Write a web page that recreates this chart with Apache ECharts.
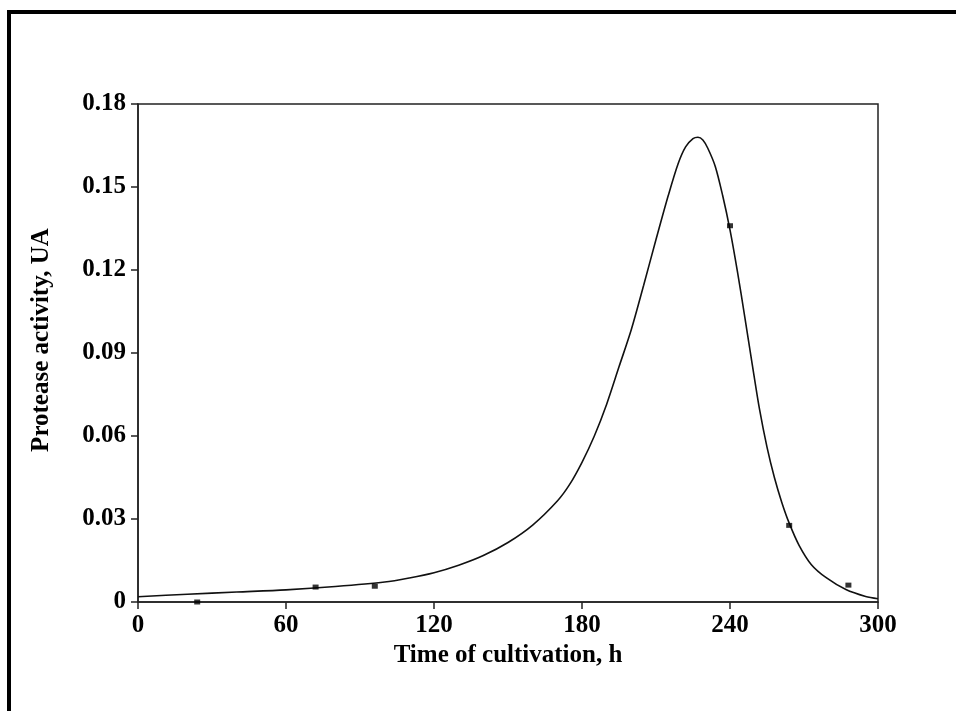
<!DOCTYPE html>
<html>
<head>
<meta charset="utf-8">
<script src="https://cdn.jsdelivr.net/npm/echarts@6/dist/echarts.min.js"></script>
<style>
  html, body { margin: 0; padding: 0; background: #fff; }
  #main { width: 956px; height: 711px; }
</style>
</head>
<body>
<div id="main"></div>
<script>
// fitted curve (time h, activity UA)
const curveX = [0, 20, 40, 60, 80, 100, 110, 120, 130, 140, 150, 160, 170, 175, 180, 185, 190, 195, 200, 205, 210, 215, 219, 222, 225, 227, 229, 231, 234, 237, 240, 243, 246, 249, 252, 255, 258, 261, 264, 268, 273, 279, 287, 295, 300];
const curveY = [0.0019, 0.0028, 0.0036, 0.0044, 0.0056, 0.0072, 0.0087, 0.0106, 0.0133, 0.0168, 0.0215, 0.0278, 0.0365, 0.0425, 0.0505, 0.0600, 0.0715, 0.0850, 0.0985, 0.1145, 0.1310, 0.1470, 0.1585, 0.1645, 0.1675, 0.1680, 0.1670, 0.1640, 0.1575, 0.1470, 0.1345, 0.1195, 0.1030, 0.0860, 0.0695, 0.0560, 0.0450, 0.0360, 0.0285, 0.0205, 0.0135, 0.0088, 0.0045, 0.0020, 0.0012];

// measured points
const pointX = [24, 72, 96, 240, 264, 288];
const pointY = [0.0000, 0.0054, 0.0057, 0.1360, 0.0277, 0.0061];

const xTicks = [0, 60, 120, 180, 240, 300];
const yTicks = ['0', '0.03', '0.06', '0.09', '0.12', '0.15', '0.18'];

const font = 'Liberation Serif, Times New Roman, serif';
const axisColor = '#222';

const chart = echarts.init(document.getElementById('main'));

const option = {
  backgroundColor: '#fff',
  animation: false,
  graphic: [
    {
      type: 'polyline',
      shape: { points: [[9, 711], [9, 12], [956, 12]] },
      style: { stroke: '#000', lineWidth: 4, fill: null }
    }
  ],
  grid: {
    left: 138,
    top: 104,
    right: 78,
    bottom: 109,
    show: true,
    borderColor: axisColor,
    borderWidth: 1.5
  },
  xAxis: {
    type: 'value',
    min: xTicks[0],
    max: xTicks[xTicks.length - 1],
    interval: 60,
    name: 'Time of cultivation, h',
    nameLocation: 'middle',
    nameGap: 35,
    nameTextStyle: { fontFamily: font, fontWeight: 'bold', fontSize: 25, color: '#000' },
    axisLine: { onZero: false, lineStyle: { color: axisColor, width: 1.5 } },
    axisTick: { length: 7, lineStyle: { color: axisColor, width: 1.5 } },
    axisLabel: { margin: 11, fontFamily: font, fontWeight: 'bold', fontSize: 25, color: '#000' },
    splitLine: { show: false }
  },
  yAxis: {
    type: 'value',
    min: 0,
    max: 0.18,
    interval: 0.03,
    name: 'Protease activity, UA',
    nameLocation: 'middle',
    nameGap: 84,
    nameTextStyle: { fontFamily: font, fontWeight: 'bold', fontSize: 25, color: '#000', padding: [0, 0, 0, 26] },
    axisLine: { show: true, lineStyle: { color: axisColor, width: 1.5 } },
    axisTick: { show: true, length: 7, lineStyle: { color: axisColor, width: 1.5 } },
    axisLabel: {
      margin: 12,
      fontFamily: font,
      fontWeight: 'bold',
      fontSize: 25,
      color: '#000',
      formatter: (v) => yTicks[Math.round(v / 0.03)]
    },
    splitLine: { show: false }
  },
  series: [
    {
      type: 'line',
      data: curveX.map((x, i) => [x, curveY[i]]),
      smooth: 0.3,
      showSymbol: false,
      lineStyle: { color: '#111', width: 1.6 },
      z: 2
    },
    {
      type: 'scatter',
      data: pointX.map((x, i) => [x, pointY[i]]),
      symbol: 'rect',
      symbolSize: [6, 5],
      itemStyle: { color: '#000' },
      z: 3
    }
  ]
};

chart.setOption(option);
</script>
</body>
</html>
